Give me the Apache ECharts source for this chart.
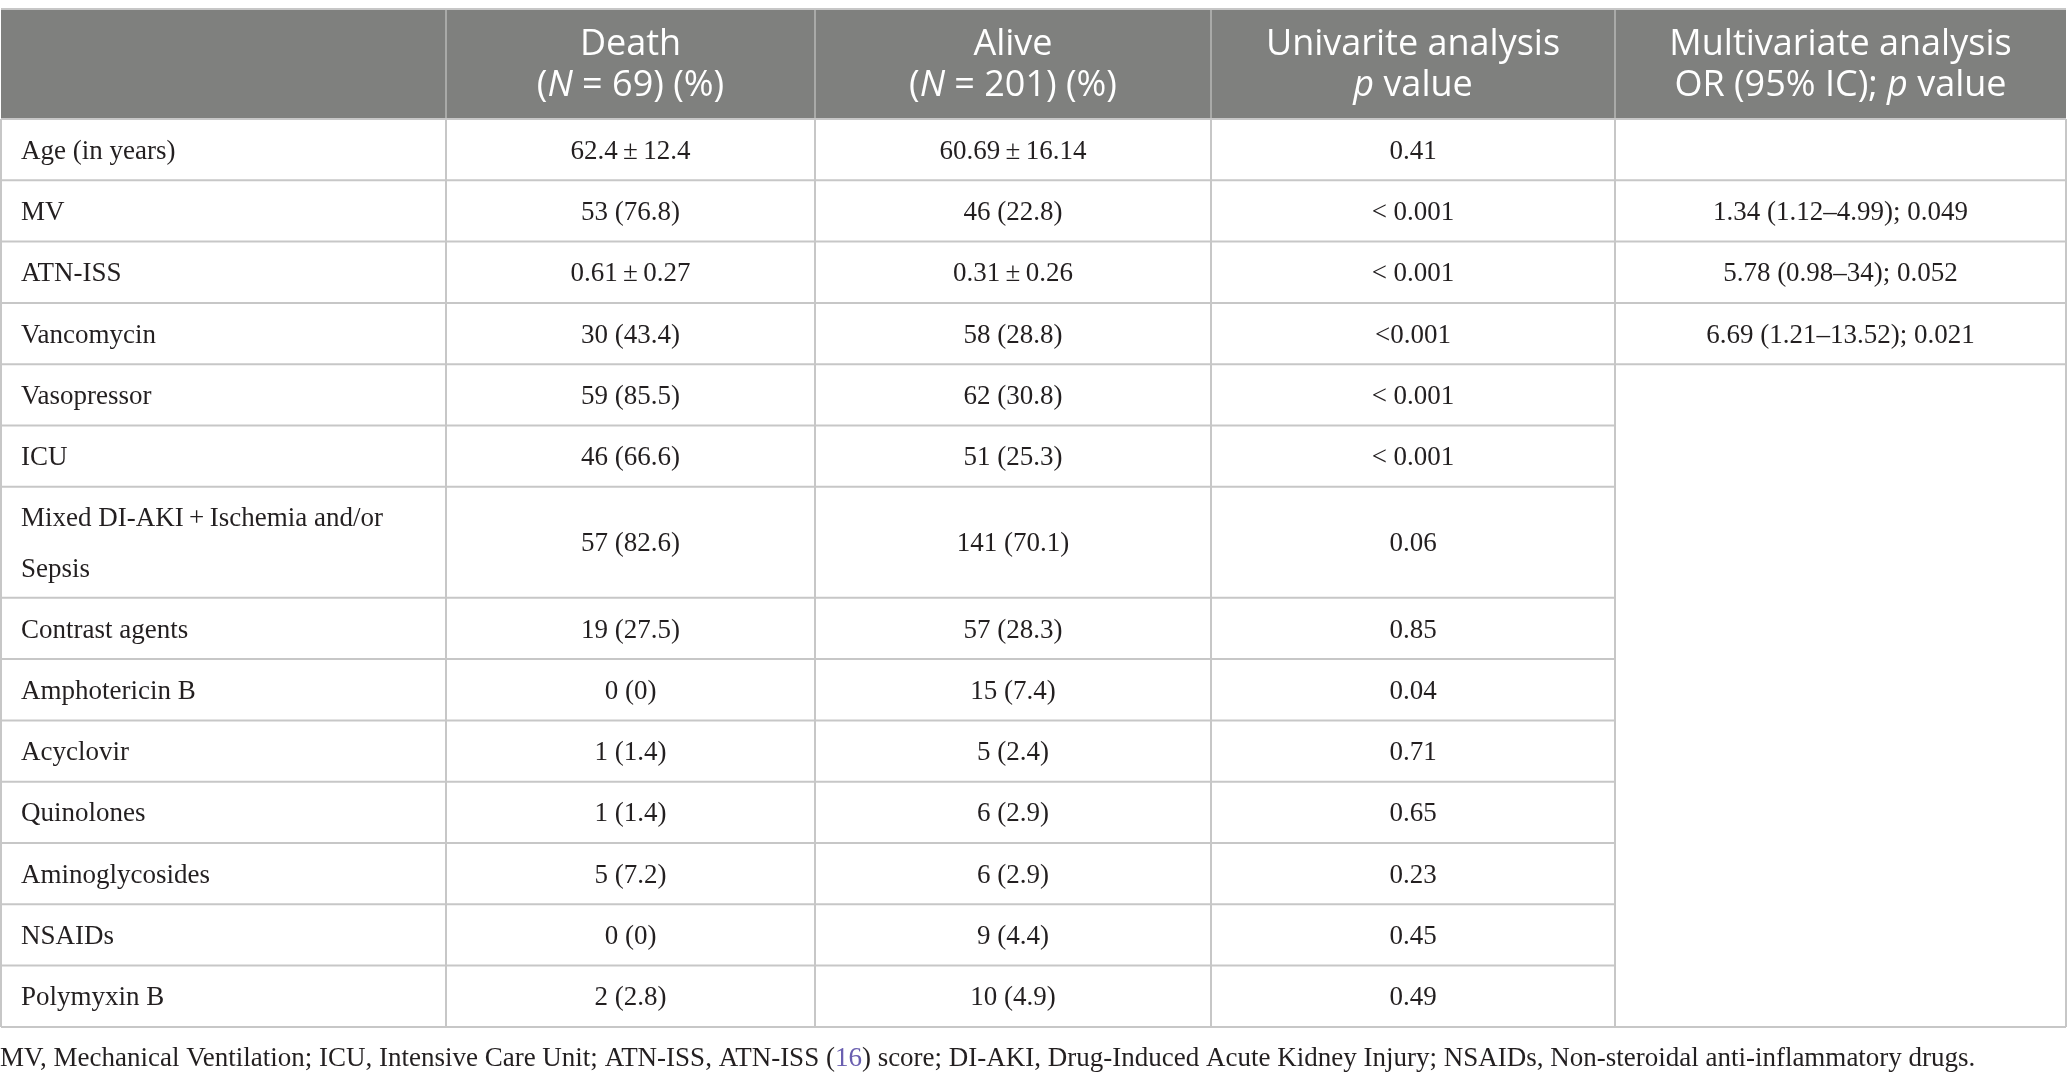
<!DOCTYPE html>
<html>
<head>
<meta charset="utf-8">
<script src="https://cdn.jsdelivr.net/npm/echarts@6/dist/echarts.min.js"></script>
<style>
html,body{margin:0;padding:0;background:#fff}
#main{width:2068px;height:1084px}
</style>
</head>
<body>
<div id="main"></div>
<script>
// 表头
const headers = [
  '',
  'Death\n({i|N} = 69) (%)',
  'Alive\n({i|N} = 201) (%)',
  'Univarite analysis\n{i|p} value',
  'Multivariate analysis\nOR (95% IC); {i|p} value'
]
// 各行数据
const rowLabels = ['Age (in years)', 'MV', 'ATN-ISS', 'Vancomycin', 'Vasopressor', 'ICU',
  'Mixed DI-AKI\u2009+\u2009Ischemia and/or\nSepsis', 'Contrast agents', 'Amphotericin B',
  'Acyclovir', 'Quinolones', 'Aminoglycosides', 'NSAIDs', 'Polymyxin B']
const deathVals = ['62.4\u2009±\u200912.4', '53 (76.8)', '0.61\u2009±\u20090.27', '30 (43.4)', '59 (85.5)',
  '46 (66.6)', '57 (82.6)', '19 (27.5)', '0 (0)', '1 (1.4)', '1 (1.4)', '5 (7.2)', '0 (0)', '2 (2.8)']
const aliveVals = ['60.69\u2009±\u200916.14', '46 (22.8)', '0.31\u2009±\u20090.26', '58 (28.8)', '62 (30.8)',
  '51 (25.3)', '141 (70.1)', '57 (28.3)', '15 (7.4)', '5 (2.4)', '6 (2.9)', '6 (2.9)', '9 (4.4)', '10 (4.9)']
const uniP = ['0.41', '< 0.001', '< 0.001', '<0.001', '< 0.001', '< 0.001', '0.06', '0.85', '0.04',
  '0.71', '0.65', '0.23', '0.45', '0.49']
const multiOR = ['', '1.34 (1.12–4.99); 0.049', '5.78 (0.98–34); 0.052', '6.69 (1.21–13.52); 0.021']
const footnote = 'MV, Mechanical Ventilation; ICU, Intensive Care Unit; ATN-ISS, ATN-ISS ({ref|16}) score; DI-AKI, Drug-Induced Acute Kidney Injury; NSAIDs, Non-steroidal anti-inflammatory drugs.'

// 版式
const colX = [1, 446, 815, 1211, 1615, 2066]
const headTop = 9, headBottom = 119
const rowH = 61.3, tallRowH = 111
const lineColor = '#c7c7c7'
const serif = '"Liberation Serif", "DejaVu Serif", serif'
const sans = '"Open Sans", "Noto Sans", sans-serif'

const chart = echarts.init(document.getElementById('main'))

let rowEdges = [headBottom]
rowLabels.forEach((l, i) => {
  rowEdges.push(rowEdges[i] + (l.indexOf('\n') >= 0 ? tallRowH : rowH))
})
const tableBottom = rowEdges[rowEdges.length - 1]

let els = []
// 表头背景
els.push({ type: 'rect', shape: { x: colX[0], y: headTop, width: colX[5] - colX[0], height: headBottom - headTop },
  style: { fill: '#7f807e' } })
headers.forEach((h, c) => {
  if (!h) return
  els.push({ type: 'text', x: (colX[c] + colX[c + 1]) / 2, y: (headTop + headBottom) / 2 + 1,
    style: { text: h, fill: '#fff', font: '400 36px ' + sans, align: 'center', verticalAlign: 'middle',
      lineHeight: 41,
      rich: { i: { fontStyle: 'italic', fontSize: 36, fontFamily: sans, fill: '#fff', lineHeight: 41 } } } })
})
// 表头竖线
for (let c = 1; c < 5; c++) {
  els.push({ type: 'line', shape: { x1: colX[c], y1: headTop, x2: colX[c], y2: headBottom },
    style: { stroke: '#a9aaa8', lineWidth: 2 } })
}
// 单元格文字
const cols = [rowLabels, deathVals, aliveVals, uniP, multiOR]
rowLabels.forEach((l, r) => {
  const cy = (rowEdges[r] + rowEdges[r + 1]) / 2 + 2
  cols.forEach((arr, c) => {
    const t = arr[r]
    if (!t) return
    els.push({ type: 'text', x: c === 0 ? 21 : (colX[c] + colX[c + 1]) / 2, y: cy,
      style: { text: t, fill: '#231f20', font: '27px ' + serif, align: c === 0 ? 'left' : 'center',
        verticalAlign: 'middle', lineHeight: 51 } })
  })
})
// 横线
rowEdges.forEach((y, i) => {
  const x2 = (i > 0 && i < rowEdges.length - 1 && i > multiOR.length) ? colX[4] : colX[5]
  els.push({ type: 'line', shape: { x1: colX[0], y1: y, x2: x2, y2: y }, style: { stroke: lineColor, lineWidth: 2 } })
})
els.push({ type: 'line', shape: { x1: colX[0], y1: headTop, x2: colX[5], y2: headTop }, style: { stroke: lineColor, lineWidth: 2 } })
// 竖线
colX.forEach(x => {
  els.push({ type: 'line', shape: { x1: x, y1: headBottom, x2: x, y2: tableBottom }, style: { stroke: lineColor, lineWidth: 2 } })
})
// 注释
els.push({ type: 'text', x: 0, y: 1059,
  style: { text: footnote, fill: '#231f20', font: '27px ' + serif, verticalAlign: 'middle',
    rich: { ref: { fill: '#6a5fb0', fontSize: 27, fontFamily: serif } } } })

chart.setOption({ animation: false, graphic: { elements: els } })
</script>
</body>
</html>
